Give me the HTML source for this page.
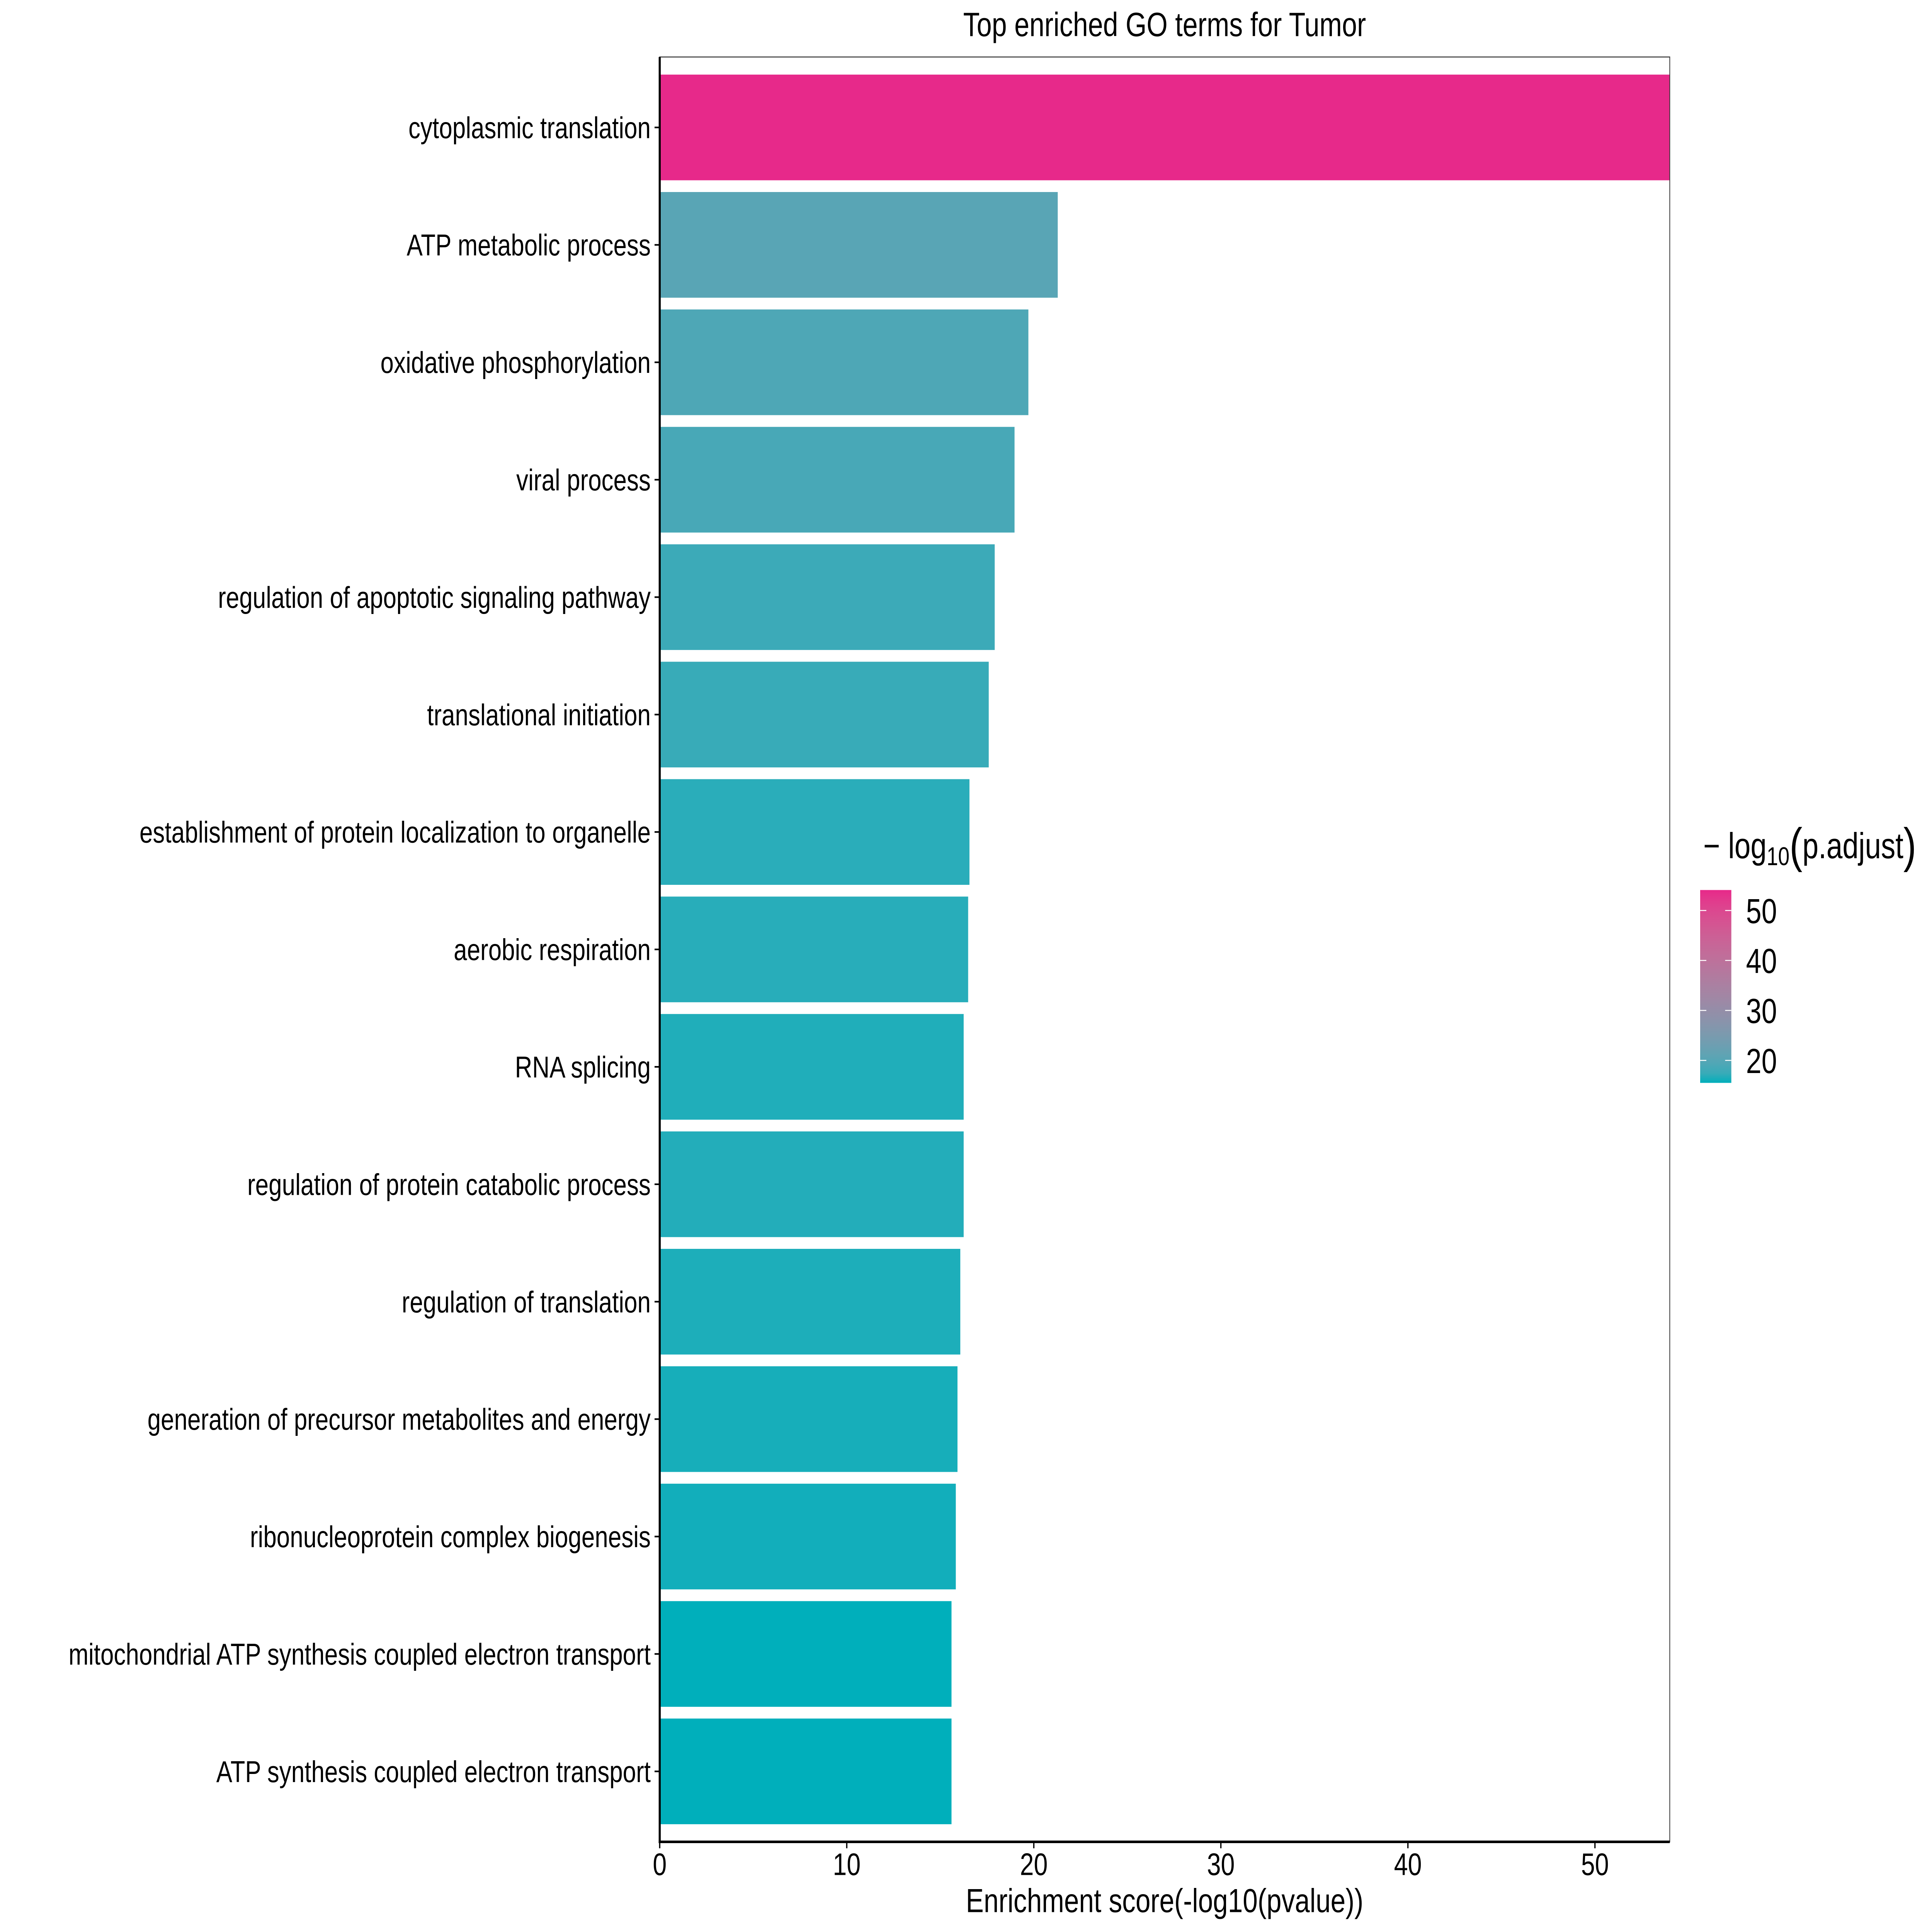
<!DOCTYPE html>
<html><head><meta charset="utf-8"><style>
html,body{margin:0;padding:0;background:#fff;width:100%;height:100%;overflow:hidden;}
svg{display:block;position:absolute;left:0;top:0;width:100vw;height:100vh;font-family:"Liberation Sans",Arial,sans-serif;}
</style></head><body>
<svg id="chart" viewBox="0 0 7500 6000" preserveAspectRatio="none" xmlns="http://www.w3.org/2000/svg">
<rect x="0" y="0" width="7500" height="6000" fill="#fff"/>
<text x="4521" y="112" font-size="105" text-anchor="middle" fill="#000">Top enriched GO terms for Tumor</text>
<g id="bars"></g>
<rect x="2561" y="177" width="3921" height="5543" fill="none" stroke="#333" stroke-width="3"/>
<line x1="2561" y1="177" x2="2561" y2="5724" stroke="#000" stroke-width="8"/>
<line x1="2557" y1="5720" x2="6482" y2="5720" stroke="#000" stroke-width="8"/>
<g id="yaxis"></g>
<g id="xaxis"></g>
<text x="4521" y="5938" font-size="104" text-anchor="middle" fill="#000">Enrichment score(-log10(pvalue))</text>
<g id="legend">
<text x="6612" y="2665" font-size="112" fill="#000"><tspan>− log</tspan><tspan font-size="80" dy="22">10</tspan><tspan font-size="150" dy="-10">(</tspan><tspan font-size="112" dy="-12">p.adjust</tspan><tspan font-size="150" dy="12">)</tspan></text>
<defs><linearGradient id="lg" x1="0" y1="1" x2="0" y2="0"></linearGradient></defs>
<rect id="cbar" x="6600" y="2764" width="121" height="599" fill="url(#lg)"/>
<g id="cticks"></g>
</g>
</svg>
<script>
const categories = ["cytoplasmic translation","ATP metabolic process","oxidative phosphorylation","viral process","regulation of apoptotic signaling pathway","translational initiation","establishment of protein localization to organelle","aerobic respiration","RNA splicing","regulation of protein catabolic process","regulation of translation","generation of precursor metabolites and energy","ribonucleoprotein complex biogenesis","mitochondrial ATP synthesis coupled electron transport","ATP synthesis coupled electron transport"];
const scores = [54.0, 21.28, 19.71, 18.97, 17.91, 17.59, 16.56, 16.49, 16.25, 16.25, 16.07, 15.92, 15.83, 15.60, 15.60];
const padj = [54.1, 20.3, 19.2, 18.6, 17.7, 17.4, 16.6, 16.5, 16.2, 16.3, 16.1, 15.9, 15.8, 15.5, 15.5];
const xTicks = [0, 10, 20, 30, 40, 50];
const legendTicks = [20, 30, 40, 50];

const NS = "http://www.w3.org/2000/svg";
const PL = 2561, PR = 6482, PT = 177, PB = 5720;
const XMAX = Math.max(...scores);
const xs = v => PL + (v / XMAX) * (PR - PL);
const n = categories.length;
const band = (PB - PT) / (n - 1 + 1.2);
const yc = i => PT + (0.6 + i) * band;

function srgb2lin(c){c/=255;return c<=0.04045?c/12.92:Math.pow((c+0.055)/1.055,2.4);}
function lin2srgb(c){c=c<=0.0031308?12.92*c:1.055*Math.pow(c,1/2.4)-0.055;return Math.max(0,Math.min(255,Math.round(c*255)));}
function hex2lab(h){const r=srgb2lin(parseInt(h.slice(1,3),16)),g=srgb2lin(parseInt(h.slice(3,5),16)),b=srgb2lin(parseInt(h.slice(5,7),16));
let X=(0.4124*r+0.3576*g+0.1805*b)/0.95047,Y=0.2126*r+0.7152*g+0.0722*b,Z=(0.0193*r+0.1192*g+0.9505*b)/1.08883;
const f=t=>t>0.008856?Math.cbrt(t):7.787*t+16/116;X=f(X);Y=f(Y);Z=f(Z);return [116*Y-16,500*(X-Y),200*(Y-Z)];}
function lab2hex(L,a,b){let Y=(L+16)/116,X=a/500+Y,Z=Y-b/200;const fi=t=>t*t*t>0.008856?t*t*t:(t-16/116)/7.787;
X=fi(X)*0.95047;Y=fi(Y);Z=fi(Z)*1.08883;
const r=3.2406*X-1.5372*Y-0.4986*Z,g=-0.9689*X+1.8758*Y+0.0415*Z,bb=0.0557*X-0.2040*Y+1.0570*Z;
return "#"+[r,g,bb].map(c=>lin2srgb(c).toString(16).padStart(2,"0")).join("");}
const LOW = hex2lab("#00AFBB"), HIGH = hex2lab("#E7298A");
const PMIN = Math.min(...padj), PMAX = Math.max(...padj);
function col(v){const t=(v-PMIN)/(PMAX-PMIN);return lab2hex(LOW[0]+t*(HIGH[0]-LOW[0]),LOW[1]+t*(HIGH[1]-LOW[1]),LOW[2]+t*(HIGH[2]-LOW[2]));}

const bars = document.getElementById("bars");
const yaxis = document.getElementById("yaxis");
categories.forEach((c, i) => {
  const r = document.createElementNS(NS, "rect");
  r.setAttribute("x", PL);
  r.setAttribute("y", yc(i) - 0.45 * band);
  r.setAttribute("width", xs(scores[i]) - PL);
  r.setAttribute("height", 0.9 * band);
  r.setAttribute("fill", col(padj[i]));
  
  
  bars.appendChild(r);
  const tk = document.createElementNS(NS, "line");
  tk.setAttribute("x1", 2541); tk.setAttribute("x2", 2561);
  tk.setAttribute("y1", yc(i)); tk.setAttribute("y2", yc(i));
  tk.setAttribute("stroke", "#000"); tk.setAttribute("stroke-width", "5");
  
  
  yaxis.appendChild(tk);
  const t = document.createElementNS(NS, "text");
  t.setAttribute("x", 2526); t.setAttribute("y", yc(i) + 33);
  t.setAttribute("font-size", "93"); t.setAttribute("text-anchor", "end");
  t.textContent = c;
  
  
  yaxis.appendChild(t);
});

const xaxis = document.getElementById("xaxis");
xTicks.forEach(v => {
  const tk = document.createElementNS(NS, "line");
  tk.setAttribute("x1", xs(v)); tk.setAttribute("x2", xs(v));
  tk.setAttribute("y1", 5720); tk.setAttribute("y2", 5740);
  tk.setAttribute("stroke", "#000"); tk.setAttribute("stroke-width", "5");
  
  
  xaxis.appendChild(tk);
  const t = document.createElementNS(NS, "text");
  t.setAttribute("x", xs(v)); t.setAttribute("y", 5823);
  t.setAttribute("font-size", "97"); t.setAttribute("text-anchor", "middle");
  t.textContent = v;
  
  
  xaxis.appendChild(t);
});

const CB_T = 2764, CB_B = 3363;
const ly = v => CB_B - (v - PMIN) / (PMAX - PMIN) * (CB_B - CB_T);
const lg = document.getElementById("lg");
for (let k = 0; k <= 20; k++) {
  const v = PMIN + k / 20 * (PMAX - PMIN);
  const s = document.createElementNS(NS, "stop");
  s.setAttribute("offset", (k / 20 * 100) + "%");
  s.setAttribute("stop-color", col(v));
  lg.appendChild(s);
}
const ct = document.getElementById("cticks");
legendTicks.forEach(v => {
  [[6600, 6624], [6697, 6721]].forEach(([a, b]) => {
    const l = document.createElementNS(NS, "line");
    l.setAttribute("x1", a); l.setAttribute("x2", b);
    l.setAttribute("y1", ly(v)); l.setAttribute("y2", ly(v));
    l.setAttribute("stroke", "#fff"); l.setAttribute("stroke-width", "3");
    
    
    ct.appendChild(l);
  });
  const t = document.createElementNS(NS, "text");
  t.setAttribute("x", 6778); t.setAttribute("y", ly(v) + 39);
  t.setAttribute("font-size", "108");
  t.textContent = v;
  
  
  ct.appendChild(t);
});
</script>
</body></html>
